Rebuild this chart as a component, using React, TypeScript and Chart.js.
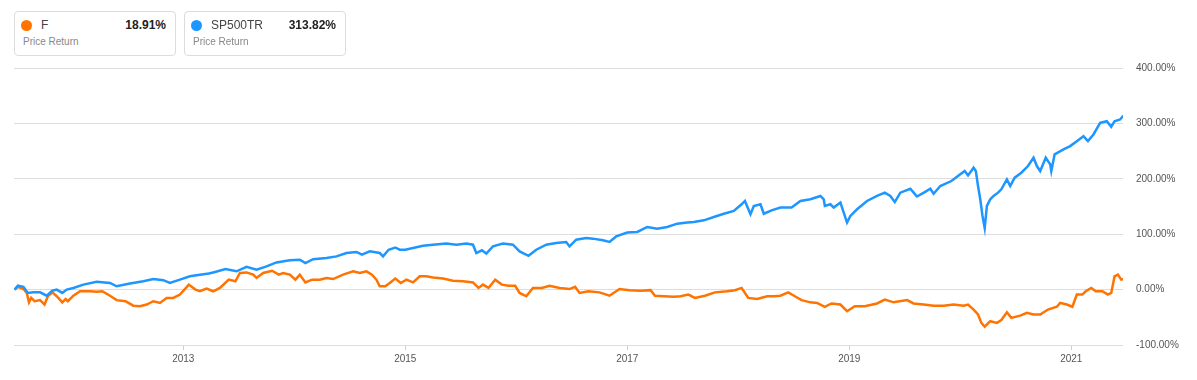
import React, { useEffect, useRef } from "react";
import { Chart, registerables } from "chart.js";

Chart.register(...registerables);

// ---- Data (percent total return vs. start, dates as decimal years) ----
const spDates = [
  2011.48, 2011.51, 2011.56, 2011.60, 2011.65, 2011.71, 2011.77, 2011.82, 2011.86, 2011.91,
  2011.95, 2012.01, 2012.10, 2012.22, 2012.34, 2012.40, 2012.52, 2012.64, 2012.73, 2012.82,
  2012.88, 2012.97, 2013.06, 2013.15, 2013.23, 2013.27, 2013.38, 2013.48, 2013.57, 2013.66,
  2013.75, 2013.84, 2013.96, 2014.05, 2014.10, 2014.17, 2014.29, 2014.38, 2014.47, 2014.56,
  2014.61, 2014.68, 2014.77, 2014.80, 2014.85, 2014.91, 2014.95, 2015.00, 2015.07, 2015.16,
  2015.25, 2015.37, 2015.46, 2015.55, 2015.61, 2015.64, 2015.69, 2015.73, 2015.79, 2015.88,
  2015.97, 2016.03, 2016.11, 2016.18, 2016.27, 2016.36, 2016.45, 2016.48, 2016.54, 2016.63,
  2016.69, 2016.78, 2016.84, 2016.90, 2017.00, 2017.09, 2017.18, 2017.27, 2017.36, 2017.45,
  2017.54, 2017.60, 2017.69, 2017.78, 2017.87, 2017.96, 2018.03, 2018.06, 2018.11, 2018.14,
  2018.20, 2018.23, 2018.30, 2018.38, 2018.48, 2018.56, 2018.65, 2018.74, 2018.77, 2018.78,
  2018.83, 2018.86, 2018.92, 2018.95, 2018.98, 2019.01, 2019.07, 2019.16, 2019.25, 2019.32,
  2019.37, 2019.41, 2019.46, 2019.55, 2019.58, 2019.61, 2019.68, 2019.73, 2019.76, 2019.82,
  2019.92, 2020.00, 2020.04, 2020.07, 2020.12, 2020.14, 2020.16, 2020.18, 2020.20, 2020.22,
  2020.24, 2020.27, 2020.30, 2020.34, 2020.37, 2020.42, 2020.45, 2020.49, 2020.55, 2020.61,
  2020.66, 2020.69, 2020.72, 2020.77, 2020.81, 2020.82, 2020.85, 2020.93, 2020.99, 2021.05,
  2021.11, 2021.15, 2021.20, 2021.26, 2021.32, 2021.36, 2021.39, 2021.44, 2021.47,
];
const spValues = [
  0, 7, 5, -6, -5, -5, -11, -2, 0, -6,
  0, 3, 9, 14, 12, 6, 11, 15, 19, 17,
  12, 18, 24, 27, 29, 31, 37, 33, 41, 36,
  42, 49, 53, 54, 48, 55, 57, 60, 66, 68,
  63, 69, 66, 60, 72, 76, 72, 72, 75, 79,
  81, 83, 81, 83, 81, 66, 71, 65, 78, 83,
  81, 69, 61, 72, 81, 84, 86, 78, 90, 93,
  92, 89, 86, 96, 103, 104, 113, 110, 113, 119,
  121, 122, 125, 131, 137, 142, 154, 160, 136, 151,
  154, 137, 143, 148, 148, 160, 163, 169, 163, 151,
  154, 148, 157, 139, 121, 133, 145, 160, 169, 175,
  169, 158, 175, 182, 175, 168, 176, 182, 173, 187,
  196, 208, 214, 206, 220, 214, 187, 163, 133, 111,
  151, 163, 169, 175, 181, 199, 187, 202, 211, 223,
  238, 223, 214, 238, 226, 214, 244, 253, 259, 268,
  277, 268, 280, 301, 304, 294, 304, 307, 314,
];

const fDates = [
  2011.48, 2011.51, 2011.56, 2011.59, 2011.61, 2011.63, 2011.66, 2011.71, 2011.75, 2011.78,
  2011.82, 2011.86, 2011.91, 2011.94, 2011.96, 2012.01, 2012.07, 2012.16, 2012.22, 2012.27,
  2012.34, 2012.40, 2012.48, 2012.55, 2012.61, 2012.67, 2012.73, 2012.79, 2012.85, 2012.91,
  2012.97, 2013.05, 2013.11, 2013.15, 2013.21, 2013.27, 2013.33, 2013.41, 2013.47, 2013.51,
  2013.57, 2013.63, 2013.66, 2013.72, 2013.80, 2013.86, 2013.90, 2013.96, 2014.01, 2014.05,
  2014.10, 2014.16, 2014.23, 2014.29, 2014.35, 2014.44, 2014.53, 2014.59, 2014.65, 2014.70,
  2014.74, 2014.77, 2014.82, 2014.86, 2014.91, 2014.96, 2015.01, 2015.07, 2015.13, 2015.19,
  2015.25, 2015.34, 2015.43, 2015.52, 2015.61, 2015.66, 2015.70, 2015.75, 2015.81, 2015.87,
  2015.93, 2015.99, 2016.03, 2016.09, 2016.15, 2016.23, 2016.30, 2016.39, 2016.48, 2016.53,
  2016.57, 2016.65, 2016.75, 2016.84, 2016.93, 2017.02, 2017.12, 2017.21, 2017.25, 2017.33,
  2017.42, 2017.48, 2017.55, 2017.61, 2017.70, 2017.79, 2017.90, 2017.97, 2018.03, 2018.09,
  2018.17, 2018.26, 2018.32, 2018.38, 2018.45, 2018.51, 2018.57, 2018.65, 2018.71, 2018.78,
  2018.84, 2018.92, 2018.98, 2019.05, 2019.14, 2019.25, 2019.32, 2019.40, 2019.52, 2019.58,
  2019.67, 2019.76, 2019.85, 2019.94, 2020.03, 2020.07, 2020.12, 2020.16, 2020.19, 2020.22,
  2020.27, 2020.33, 2020.37, 2020.42, 2020.46, 2020.54, 2020.60, 2020.66, 2020.72, 2020.79,
  2020.87, 2020.90, 2020.96, 2021.01, 2021.05, 2021.10, 2021.13, 2021.18, 2021.22, 2021.28,
  2021.33, 2021.36, 2021.39, 2021.42, 2021.45, 2021.47,
];
const fValues = [
  0, 5, 1, -6, -23, -15, -21, -19, -27, -12,
  -5, -12, -23, -17, -21, -11, -3, -3, -4, -3,
  -11, -19, -21, -29, -30, -27, -21, -24, -15, -15,
  -9, 9, 0, -3, 2, -3, 3, 18, 15, 30,
  31, 27, 21, 30, 34, 27, 30, 27, 18, 27,
  13, 18, 18, 21, 19, 27, 33, 30, 33, 27,
  18, 6, 6, 12, 20, 12, 18, 13, 24, 24,
  22, 20, 16, 15, 13, 3, 9, 3, 18, 9,
  7, 7, -6, -12, 3, 3, 7, 3, 1, 5,
  -6, -3, -5, -11, 1, -1, -2, -1, -11, -12,
  -13, -12, -9, -15, -11, -5, -3, -1, 3, -15,
  -17, -12, -12, -11, -5, -12, -19, -23, -24, -31,
  -25, -27, -39, -30, -30, -25, -18, -23, -19, -25,
  -27, -29, -29, -27, -29, -27, -36, -45, -60, -67,
  -57, -60, -55, -41, -51, -47, -42, -45, -45, -36,
  -31, -24, -27, -31, -9, -9, -3, 3, -3, -3,
  -9, -6, 24, 27, 18, 19,
];

const xTickYears = [2013, 2015, 2017, 2019, 2021];
const yTickValues = [-100, 0, 100, 200, 300, 400];

const legendNames = ["F", "SP500TR"];
const legendValues = ["18.91%", "313.82%"];
const legendSubtitles = ["Price Return", "Price Return"];

const ORANGE = "#ff7300";
const BLUE = "#1e96ff";
const legendColors = [ORANGE, BLUE];
const FONT = '"Liberation Sans", Arial, Helvetica, sans-serif';

export default function App() {
  const ref = useRef<HTMLCanvasElement | null>(null);

  useEffect(() => {
    if (!ref.current) return;
    const chart = new Chart(ref.current, {
      type: "line",
      data: {
        datasets: [
          {
            label: "SP500TR",
            data: spDates.map((x, i) => ({ x, y: spValues[i] })),
            borderColor: BLUE,
            backgroundColor: BLUE,
            borderWidth: 2.5,
            pointRadius: 0,
            fill: false,
            tension: 0,
          },
          {
            label: "F",
            data: fDates.map((x, i) => ({ x, y: fValues[i] })),
            borderColor: ORANGE,
            backgroundColor: ORANGE,
            borderWidth: 2.5,
            pointRadius: 0,
            fill: false,
            tension: 0,
          },
        ],
      },
      options: {
        responsive: false,
        animation: false,
        layout: { padding: { left: 14, top: 68, right: 0, bottom: 0 } },
        plugins: {
          legend: { display: false },
          tooltip: { enabled: false },
        },
        scales: {
          x: {
            type: "linear",
            min: 2011.475,
            max: 2021.466,
            grid: {
              drawOnChartArea: false,
              drawTicks: true,
              tickLength: 5,
              color: "#cfcfcf",
            },
            border: { display: false },
            ticks: {
              font: { family: FONT, size: 10 },
              color: "#555",
              padding: 3,
              maxRotation: 0,
              autoSkip: false,
              callback: (v: any) => String(v),
            },
            afterBuildTicks: (s: any) => {
              s.ticks = xTickYears.map((v) => ({ value: v }));
            },
            afterFit: (s: any) => {
              s.height = 35;
            },
          },
          y: {
            position: "right",
            min: -100,
            max: 400,
            grid: { color: "#dddddd", drawTicks: false },
            border: { display: false },
            ticks: {
              font: { family: FONT, size: 10 },
              color: "#555",
              padding: 13,
              callback: (v: any) => Number(v).toFixed(2) + "%",
            },
            afterBuildTicks: (s: any) => {
              s.ticks = yTickValues.map((v) => ({ value: v }));
            },
            afterFit: (s: any) => {
              s.width = 74;
            },
          },
        },
      } as any,
    });
    return () => chart.destroy();
  }, []);

  return (
    <div
      style={{
        position: "fixed",
        left: 0,
        top: 0,
        width: 1197,
        height: 380,
        background: "#fff",
        fontFamily: FONT,
        overflow: "hidden",
      }}
    >
      <canvas
        ref={ref}
        width={1197}
        height={380}
        style={{ position: "absolute", left: 0, top: 0, width: 1197, height: 380 }}
      />
      {legendNames.map((name, i) => {
        const left = 14 + i * 170;
        return (
          <div
            key={name}
            style={{
              position: "absolute",
              left,
              top: 11,
              width: 160,
              height: 43,
              border: "1px solid #dcdcdc",
              borderRadius: 4,
              background: "#fff",
              boxSizing: "content-box",
            }}
          >
            <div
              style={{
                position: "absolute",
                left: 6,
                top: 8,
                width: 11,
                height: 11,
                borderRadius: "50%",
                background: legendColors[i],
              }}
            />
            <div
              style={{
                position: "absolute",
                left: 26,
                top: 6,
                fontSize: 12,
                lineHeight: "14px",
                color: "#444",
                whiteSpace: "nowrap",
              }}
            >
              {name}
            </div>
            <div
              style={{
                position: "absolute",
                right: 9,
                top: 6,
                fontSize: 12,
                lineHeight: "14px",
                fontWeight: "bold",
                color: "#222",
                whiteSpace: "nowrap",
              }}
            >
              {legendValues[i]}
            </div>
            <div
              style={{
                position: "absolute",
                left: 8,
                top: 24,
                fontSize: 10,
                lineHeight: "12px",
                color: "#888",
                whiteSpace: "nowrap",
              }}
            >
              {legendSubtitles[i]}
            </div>
          </div>
        );
      })}
    </div>
  );
}
